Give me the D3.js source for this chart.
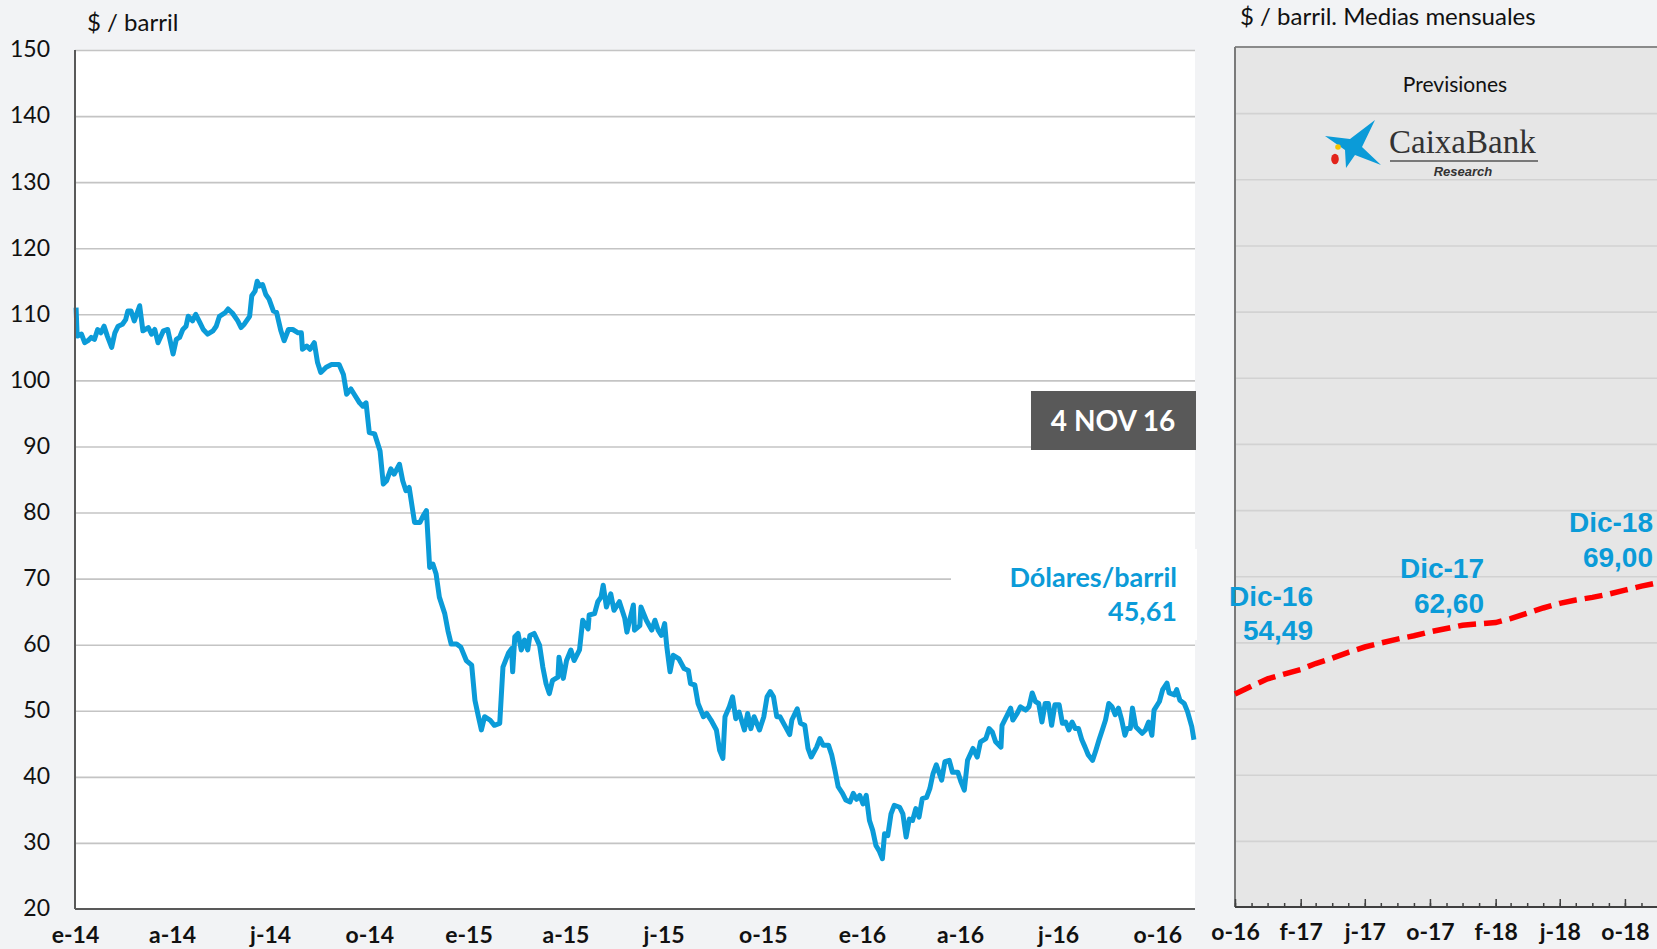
<!DOCTYPE html>
<html><head><meta charset="utf-8">
<script src="https://cdn.jsdelivr.net/npm/d3@7"></script>
<style>
html,body{margin:0;padding:0;background:#f2f3f5;}
svg{display:block;}
</style></head><body>
<svg id="chart" width="1657" height="949"></svg>
<script>
// ---------- DATA ----------
const yTicks = [20,30,40,50,60,70,80,90,100,110,120,130,140,150];
const leftTickDates = ["2014-01-01","2014-04-01","2014-07-01","2014-10-01","2015-01-01","2015-04-01","2015-07-01","2015-10-01","2016-01-01","2016-04-01","2016-07-01","2016-10-01"];
const leftTickLabels = ["e-14","a-14","j-14","o-14","e-15","a-15","j-15","o-15","e-16","a-16","j-16","o-16"];
const rightTickDates = ["2016-10-01","2017-02-01","2017-06-01","2017-10-01","2018-02-01","2018-06-01","2018-10-01"];
const rightTickLabels = ["o-16","f-17","j-17","o-17","f-18","j-18","o-18"];

const brentDaily = [
["2014-01-02",111.0],["2014-01-03",106.7],["2014-01-07",107.0],["2014-01-10",105.7],["2014-01-13",106.0],["2014-01-16",106.5],["2014-01-19",106.2],["2014-01-22",107.7],["2014-01-25",107.2],["2014-01-28",108.2],["2014-01-31",106.7],
["2014-02-04",105.0],["2014-02-07",107.2],["2014-02-10",108.2],["2014-02-14",108.5],["2014-02-17",109.2],["2014-02-19",110.5],["2014-02-22",110.5],["2014-02-25",109.0],
["2014-03-02",111.3],["2014-03-05",107.5],["2014-03-10",108.0],["2014-03-13",107.0],["2014-03-16",107.7],["2014-03-19",105.7],["2014-03-24",107.5],["2014-03-28",107.7],
["2014-04-02",104.0],["2014-04-05",106.2],["2014-04-08",106.5],["2014-04-11",107.7],["2014-04-14",108.2],["2014-04-16",109.7],["2014-04-20",109.0],["2014-04-23",110.0],["2014-04-27",108.7],["2014-04-30",107.7],
["2014-05-04",107.0],["2014-05-09",107.5],["2014-05-12",108.2],["2014-05-15",109.7],["2014-05-20",110.2],["2014-05-23",110.8],["2014-05-27",110.2],
["2014-06-01",109.0],["2014-06-04",108.0],["2014-06-07",108.5],["2014-06-12",109.7],["2014-06-14",112.8],["2014-06-17",113.5],["2014-06-19",115.0],["2014-06-21",114.3],["2014-06-24",114.5],["2014-06-27",113.0],["2014-06-30",112.3],
["2014-07-04",110.5],["2014-07-07",110.3],["2014-07-11",107.5],["2014-07-14",106.0],["2014-07-18",107.7],["2014-07-22",107.7],["2014-07-27",107.2],["2014-07-30",107.2],["2014-07-31",104.7],
["2014-08-04",105.2],["2014-08-07",104.7],["2014-08-11",105.7],["2014-08-14",102.7],["2014-08-17",101.2],["2014-08-22",102.0],["2014-08-27",102.4],["2014-08-31",102.4],
["2014-09-03",102.4],["2014-09-07",100.9],["2014-09-10",97.9],["2014-09-14",98.7],["2014-09-17",97.9],["2014-09-22",96.6],["2014-09-25",96.1],["2014-09-28",96.6],
["2014-10-01",92.1],["2014-10-06",91.9],["2014-10-11",89.3],["2014-10-14",84.3],["2014-10-17",84.8],["2014-10-21",86.6],["2014-10-24",85.8],["2014-10-29",87.3],
["2014-11-01",84.8],["2014-11-04",83.3],["2014-11-07",83.8],["2014-11-12",78.5],["2014-11-17",78.5],["2014-11-20",79.5],["2014-11-23",80.3],["2014-11-26",71.7],["2014-11-29",72.2],
["2014-12-02",70.7],["2014-12-05",67.2],["2014-12-10",64.7],["2014-12-13",62.1],["2014-12-16",60.1],["2014-12-21",60.1],["2014-12-25",59.6],["2014-12-30",57.6],
["2015-01-04",56.9],["2015-01-07",51.6],["2015-01-10",49.3],["2015-01-13",47.1],["2015-01-16",49.1],["2015-01-21",48.6],["2015-01-25",47.8],["2015-01-30",48.1],
["2015-02-02",56.6],["2015-02-07",58.7],["2015-02-10",59.4],["2015-02-11",55.9],["2015-02-13",61.2],["2015-02-16",61.7],["2015-02-19",59.2],["2015-02-22",60.7],["2015-02-25",59.2],["2015-02-27",61.4],
["2015-03-03",61.7],["2015-03-08",59.9],["2015-03-11",56.6],["2015-03-14",54.1],["2015-03-17",52.6],["2015-03-20",54.6],["2015-03-25",55.1],["2015-03-26",58.1],["2015-03-30",54.9],
["2015-04-02",57.6],["2015-04-06",59.2],["2015-04-09",57.6],["2015-04-14",59.2],["2015-04-17",63.7],["2015-04-22",62.4],["2015-04-23",64.5],["2015-04-28",64.7],
["2015-05-01",66.5],["2015-05-04",67.2],["2015-05-06",69.0],["2015-05-09",65.7],["2015-05-13",67.7],["2015-05-16",65.2],["2015-05-21",66.5],["2015-05-26",64.0],["2015-05-28",61.9],["2015-05-31",64.0],
["2015-06-03",66.0],["2015-06-04",62.2],["2015-06-09",62.9],["2015-06-10",65.7],["2015-06-15",63.7],["2015-06-20",62.2],["2015-06-23",63.7],["2015-06-26",62.2],["2015-06-29",61.4],
["2015-07-02",63.2],["2015-07-04",59.7],["2015-07-07",55.9],["2015-07-10",58.4],["2015-07-15",57.9],["2015-07-20",56.4],["2015-07-24",56.1],["2015-07-26",54.1],["2015-07-30",53.9],
["2015-08-02",51.1],["2015-08-07",49.1],["2015-08-10",49.6],["2015-08-14",48.6],["2015-08-19",47.1],["2015-08-22",44.0],["2015-08-25",42.8],["2015-08-27",49.1],["2015-08-31",50.6],
["2015-09-03",52.1],["2015-09-06",48.8],["2015-09-09",49.8],["2015-09-14",47.1],["2015-09-17",49.6],["2015-09-20",47.3],["2015-09-23",49.1],["2015-09-28",47.1],
["2015-10-02",49.1],["2015-10-05",52.1],["2015-10-08",52.9],["2015-10-11",52.1],["2015-10-14",49.1],["2015-10-17",49.1],["2015-10-22",47.6],["2015-10-26",46.4],["2015-10-28",48.6],
["2015-11-02",50.3],["2015-11-05",48.1],["2015-11-09",47.8],["2015-11-12",44.3],["2015-11-15",43.0],["2015-11-20",44.5],["2015-11-23",45.8],["2015-11-26",44.8],
["2015-12-01",44.8],["2015-12-04",43.3],["2015-12-07",41.0],["2015-12-10",38.5],["2015-12-14",37.5],["2015-12-17",36.5],["2015-12-21",36.2],["2015-12-24",37.5],["2015-12-27",36.6],["2015-12-30",37.2],
["2016-01-02",35.9],["2016-01-05",37.2],["2016-01-08",33.4],["2016-01-11",31.9],["2016-01-14",29.6],["2016-01-17",28.8],["2016-01-20",27.6],["2016-01-22",31.4],["2016-01-25",31.1],["2016-01-28",34.4],["2016-01-31",35.7],
["2016-02-05",35.4],["2016-02-08",34.4],["2016-02-11",30.9],["2016-02-14",33.6],["2016-02-17",33.4],["2016-02-20",35.2],["2016-02-23",33.9],["2016-02-26",36.7],
["2016-03-01",36.9],["2016-03-04",38.2],["2016-03-07",40.5],["2016-03-10",41.8],["2016-03-15",39.5],["2016-03-18",42.3],["2016-03-22",42.5],["2016-03-25",40.7],["2016-03-30",40.7],
["2016-04-02",39.2],["2016-04-05",38.0],["2016-04-08",42.5],["2016-04-13",44.3],["2016-04-17",43.0],["2016-04-20",45.3],["2016-04-25",45.8],["2016-04-28",47.3],
["2016-05-01",46.8],["2016-05-04",45.3],["2016-05-09",44.5],["2016-05-10",47.8],["2016-05-15",49.4],["2016-05-18",50.4],["2016-05-20",48.6],["2016-05-24",49.6],["2016-05-27",50.6],
["2016-06-01",50.1],["2016-06-04",50.6],["2016-06-07",52.7],["2016-06-10",51.4],["2016-06-13",51.1],["2016-06-16",48.3],["2016-06-19",51.1],["2016-06-22",51.1],["2016-06-25",47.8],["2016-06-28",50.9],
["2016-07-02",50.9],["2016-07-05",48.1],["2016-07-08",48.3],["2016-07-11",47.1],["2016-07-14",48.3],["2016-07-17",47.3],["2016-07-20",47.3],["2016-07-23",45.6],["2016-07-26",44.5],["2016-07-29",43.3],
["2016-08-02",42.5],["2016-08-05",44.0],["2016-08-08",45.6],["2016-08-11",47.1],["2016-08-14",48.6],["2016-08-17",51.1],["2016-08-20",50.6],["2016-08-23",49.4],["2016-08-26",50.4],["2016-08-29",48.6],
["2016-09-01",46.3],["2016-09-03",47.3],["2016-09-06",47.3],["2016-09-08",50.4],["2016-09-11",47.6],["2016-09-14",47.1],["2016-09-17",46.6],["2016-09-20",47.1],["2016-09-23",48.3],["2016-09-26",46.3],["2016-09-28",50.1],
["2016-10-03",51.4],["2016-10-06",53.2],["2016-10-10",54.2],["2016-10-12",52.7],["2016-10-17",52.4],["2016-10-19",53.2],["2016-10-22",51.6],["2016-10-26",51.1],["2016-10-29",49.9],
["2016-11-02",47.6],["2016-11-04",45.61]
];

const forecastMonths = ["2016-10-01","2016-11-01","2016-12-01","2017-01-01","2017-02-01","2017-03-01","2017-04-01","2017-05-01","2017-06-01","2017-07-01","2017-08-01","2017-09-01","2017-10-01","2017-11-01","2017-12-01","2018-01-01","2018-02-01","2018-03-01","2018-04-01","2018-05-01","2018-06-01","2018-07-01","2018-08-01","2018-09-01","2018-10-01","2018-11-01","2018-12-01"];
const forecastValues = [52.2,53.4,54.49,55.2,55.9,56.8,57.6,58.5,59.3,59.9,60.5,61.0,61.6,62.1,62.6,62.8,63.0,63.6,64.4,65.2,65.9,66.4,66.8,67.3,67.9,68.5,69.0];
const forecastLabels = [["2016-12-01","Dic-16","54,49"],["2017-12-01","Dic-17","62,60"],["2018-12-01","Dic-18","69,00"]];

const lastDateLabel = "4 NOV 16";
const lastValueTitle = "Dólares/barril";
const lastValueText = "45,61";

// ---------- DRAW ----------
const parse = d3.timeParse("%Y-%m-%d");
const svg = d3.select("#chart");
const BLUE = "#0b9bd8";
const calibri = "Lato, 'Open Sans', sans-serif";

// Left panel geometry
const L = {x0:75, x1:1195, y0:50, y1:909};
const xL = d3.scaleTime().domain([parse("2014-01-01"), parse("2016-11-05")]).range([L.x0, L.x1]);
const yL = d3.scaleLinear().domain([20,150]).range([L.y1, L.y0]);

svg.append("rect").attr("x",L.x0).attr("y",L.y0).attr("width",L.x1-L.x0).attr("height",L.y1-L.y0).attr("fill","#ffffff");

// gridlines
svg.append("g").attr("transform",`translate(${L.x0},0)`)
  .call(d3.axisLeft(yL).tickValues(yTicks.filter(v=>v>20)).tickSize(-(L.x1-L.x0)).tickFormat(""))
  .call(g=>g.select(".domain").remove())
  .call(g=>g.selectAll("line").attr("stroke","#c4c4c4").attr("stroke-width",1.6));

// y labels
svg.append("g").attr("transform",`translate(50,0)`)
  .call(d3.axisLeft(yL).tickValues(yTicks).tickSize(0).tickPadding(0))
  .call(g=>g.select(".domain").remove())
  .call(g=>g.selectAll("text").attr("font-family",calibri).attr("font-size",23).attr("fill","#111").attr("text-anchor","end").attr("dy","0.3em"));

// x labels left
svg.append("g").attr("transform",`translate(0,${L.y1})`)
  .call(d3.axisBottom(xL).tickValues(leftTickDates.map(parse)).tickSize(0).tickPadding(0)
      .tickFormat((d,i)=>leftTickLabels[i]))
  .call(g=>g.select(".domain").remove())
  .call(g=>g.selectAll("text").attr("font-family",calibri).attr("font-weight","bold").attr("font-size",23).attr("fill","#111").attr("dy",null).attr("y",34));

// label white box (behind text, hides part of 70 gridline)
svg.append("rect").attr("x",951).attr("y",549).attr("width",246).attr("height",91).attr("fill","#ffffff");

// line
const line = d3.line().x(d=>xL(parse(d[0]))).y(d=>yL(d[1]));
svg.append("path").datum(brentDaily).attr("d",line).attr("fill","none")
  .attr("stroke",BLUE).attr("stroke-width",5).attr("stroke-linejoin","round");

// axes lines
svg.append("line").attr("x1",L.x0).attr("x2",L.x0).attr("y1",L.y0).attr("y2",L.y1).attr("stroke","#595959").attr("stroke-width",2);
svg.append("line").attr("x1",L.x0).attr("x2",L.x1).attr("y1",L.y1).attr("y2",L.y1).attr("stroke","#595959").attr("stroke-width",2);

// title left
svg.append("text").attr("x",87).attr("y",31).attr("font-family",calibri).attr("font-size",24).attr("fill","#111").text("$ / barril");

// date box
svg.append("rect").attr("x",1031).attr("y",391).attr("width",165).attr("height",59).attr("fill","#595959");
svg.append("text").attr("x",1113).attr("y",431).attr("text-anchor","middle").attr("font-family",calibri).attr("font-weight","bold").attr("font-size",28).attr("fill","#ffffff").text(lastDateLabel);

// last value label
svg.append("text").attr("x",1177).attr("y",587).attr("text-anchor","end").attr("font-family",calibri).attr("font-weight","bold").attr("font-size",27).attr("fill",BLUE).text(lastValueTitle);
svg.append("text").attr("x",1177).attr("y",621).attr("text-anchor","end").attr("font-family",calibri).attr("font-weight","bold").attr("font-size",27).attr("fill",BLUE).text(lastValueText);

// ---------- Right panel ----------
const R = {x0:1235, x1:1657, y0:47, y1:907};
const xR = d3.scaleTime().domain([parse("2016-10-01"), parse("2018-12-01")]).range([R.x0, 1657.5]);
const yR = d3.scaleLinear().domain([20,150]).range([R.y1, R.y0]);

svg.append("rect").attr("x",R.x0).attr("y",R.y0).attr("width",R.x1-R.x0+5).attr("height",R.y1-R.y0).attr("fill","#e6e6e6");
svg.append("g").attr("transform",`translate(${R.x0},0)`)
  .call(d3.axisLeft(yR).tickValues(yTicks.filter(v=>v>20 && v<150)).tickSize(-(R.x1-R.x0+5)).tickFormat(""))
  .call(g=>g.select(".domain").remove())
  .call(g=>g.selectAll("line").attr("stroke","#d2d2d2").attr("stroke-width",1.6));

// top border & left border
svg.append("line").attr("x1",R.x0).attr("x2",R.x1+5).attr("y1",R.y0).attr("y2",R.y0).attr("stroke","#8a8a8a").attr("stroke-width",2);
svg.append("line").attr("x1",R.x0).attr("x2",R.x0).attr("y1",R.y0).attr("y2",R.y1).attr("stroke","#7a7a7a").attr("stroke-width",2);

// monthly ticks (inward)
const monthTicks = d3.timeMonth.range(parse("2016-10-01"), parse("2018-12-02"));
svg.append("g").attr("transform",`translate(0,${R.y1})`)
  .call(d3.axisTop(xR).tickValues(monthTicks).tickSize(4).tickFormat(""))
  .call(g=>g.select(".domain").remove())
  .call(g=>g.selectAll("line").attr("stroke","#404040").attr("stroke-width",1.5));
svg.append("g").attr("transform",`translate(0,${R.y1})`)
  .call(d3.axisTop(xR).tickValues(rightTickDates.map(parse)).tickSize(8).tickFormat(""))
  .call(g=>g.select(".domain").remove())
  .call(g=>g.selectAll("line").attr("stroke","#404040").attr("stroke-width",1.5));
svg.append("line").attr("x1",R.x0).attr("x2",R.x1+5).attr("y1",R.y1).attr("y2",R.y1).attr("stroke","#404040").attr("stroke-width",2);

// x labels right
svg.append("g").attr("transform",`translate(0,${R.y1})`)
  .call(d3.axisBottom(xR).tickValues(rightTickDates.map(parse)).tickSize(0).tickPadding(0)
      .tickFormat((d,i)=>rightTickLabels[i]))
  .call(g=>g.select(".domain").remove())
  .call(g=>g.selectAll("text").attr("font-family",calibri).attr("font-weight","bold").attr("font-size",23).attr("fill","#111").attr("dy",null).attr("y",33));

// forecast dashed line
const fData = forecastMonths.map((m,i)=>[m, forecastValues[i]]);
const fLine = d3.line().x(d=>xR(parse(d[0]))).y(d=>yR(d[1]));
svg.append("path").datum(fData).attr("d",fLine).attr("fill","none")
  .attr("stroke","#ff0000").attr("stroke-width",5.5).attr("stroke-dasharray","18,8");

// forecast labels
const lblPos = {"Dic-16":[1313,606,640],"Dic-17":[1484,578,613],"Dic-18":[1653,532,567]};
forecastLabels.forEach(([d,name,val])=>{
  const p = lblPos[name];
  const g = svg.append("g");
  g.append("text").attr("x",p[0]).attr("y",p[1]).attr("text-anchor","end").attr("font-family","'Liberation Sans', Arial, sans-serif").attr("font-weight","bold").attr("font-size",28).attr("fill",BLUE).text(name);
  g.append("text").attr("x",p[0]).attr("y",p[2]).attr("text-anchor","end").attr("font-family","'Liberation Sans', Arial, sans-serif").attr("font-weight","bold").attr("font-size",28).attr("fill",BLUE).text(val);
});

// right title
svg.append("text").attr("x",1240).attr("y",25).attr("font-family",calibri).attr("font-size",24).attr("fill","#111").text("$ / barril. Medias mensuales");
svg.append("text").attr("x",1455).attr("y",92).attr("text-anchor","middle").attr("font-family",calibri).attr("font-size",21).attr("fill","#111").text("Previsiones");

// CaixaBank logo
const logo = svg.append("g");
logo.append("path").attr("d","M1325,136 L1350,139 L1375,120 L1362,147 L1381,165 L1355,155 L1346,168 L1345,150 Z").attr("fill","#0b9bd8");
logo.append("circle").attr("cx",1338).attr("cy",147).attr("r",2.8).attr("fill","#f5c400");
logo.append("ellipse").attr("cx",1335).attr("cy",159).attr("rx",3.8).attr("ry",5.2).attr("fill","#e2231a");
logo.append("text").attr("x",1389).attr("y",153).attr("font-family","'Liberation Serif', 'DejaVu Serif', serif").attr("font-size",33).attr("fill","#333").text("CaixaBank");
logo.append("line").attr("x1",1390).attr("x2",1538).attr("y1",161).attr("y2",161).attr("stroke","#555").attr("stroke-width",1.5);
logo.append("text").attr("x",1463).attr("y",176).attr("text-anchor","middle").attr("font-family","'Liberation Sans', Arial, sans-serif").attr("font-weight","bold").attr("font-style","italic").attr("font-size",13).attr("fill","#333").text("Research");
</script>
</body></html>
